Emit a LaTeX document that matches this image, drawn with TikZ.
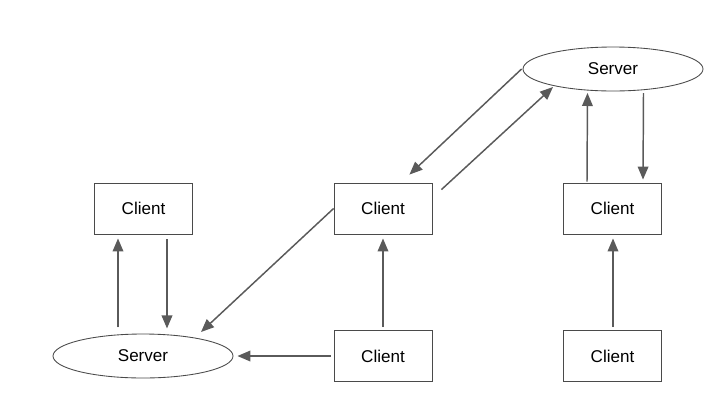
\documentclass[tikz,border=0pt]{standalone}
\usepackage{fontspec}
\setmainfont{Liberation Sans}
\usetikzlibrary{arrows.meta,calc,shapes.geometric}
\definecolor{linegray}{HTML}{5a5a5a}
\definecolor{boxgray}{HTML}{4a4a4a}
\begin{document}
\begin{tikzpicture}[x=0.75pt,y=-0.75pt,
  client/.style={draw=boxgray,line width=0.65pt,rectangle,minimum width=98*0.75pt,minimum height=51*0.75pt,inner sep=0pt,font=\fontsize{12.8}{14}\selectfont},
  server/.style={draw=boxgray,line width=0.65pt,ellipse,minimum width=180*0.75pt,minimum height=44*0.75pt,inner sep=0pt,font=\fontsize{12.8}{14}\selectfont},
  arr/.style={draw=linegray,line width=1.1pt,-{Triangle[length=9.75pt,width=8pt]},fill=linegray}]
\useasboundingbox (0,0) rectangle (725,408);
\node[client] (lc) at (143.5,208.5) {Client};
\node[client] (mc) at (383,208.5) {Client};
\node[client] (rc) at (612.5,208.5) {Client};
\node[client] (mb) at (383,356) {Client};
\node[client] (rb) at (612.5,356) {Client};
\node[server] (ls) at (143,356) {Server};
\node[server] (ts) at (613,69) {Server};
% left pair
\draw[arr] ($(lc.south)+(-25.5,93)$) -- ($(lc.south)+(-25.5,4)$);
\draw[arr] ($(lc.south)+(23.5,5)$) -- ($(lc.south)+(23.5,94)$);
% middle
\draw[arr] ($(mb.north)+(0,-3)$) -- ($(mc.south)+(0,4)$);
\draw[arr] ($(mb.west)+(-3,0)$) -- ($(ls.east)+(4,0)$);
\draw[arr] (mc.west) -- ($(ls.center)+(58,-24)$);
\draw[arr] ($(ts.west)+(-1,0)$) -- ($(mc.north east)+(-23,-8)$);
\draw[arr] ($(mc.north east)+(9,7)$) -- ($(ts.center)+(-60,18)$);
% right
\draw[arr] ($(rc.north)+(-25.5,-1)$) -- ($(ts.center)+(-25.5,24)$);
\draw[arr] ($(ts.center)+(30.5,24)$) -- ($(rc.north)+(30.5,-3)$);
\draw[arr] ($(rb.north)+(0.5,-3)$) -- ($(rc.south)+(0.5,4)$);
\end{tikzpicture}
\end{document}
